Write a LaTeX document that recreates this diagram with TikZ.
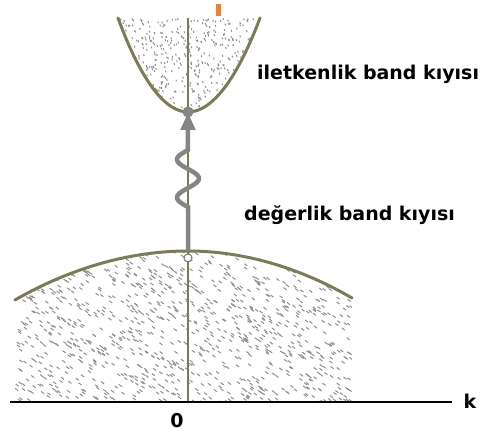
\documentclass[tikz,border=0pt]{standalone}
\usepackage{fontspec}
\setmainfont{DejaVu Sans}
\usetikzlibrary{arrows.meta}
\definecolor{bandc}{HTML}{7D7B55}
\definecolor{wavec}{HTML}{858585}
\definecolor{dotc}{HTML}{8E8E8E}
\definecolor{markc}{HTML}{F08040}
\begin{document}
\begin{tikzpicture}[x=1pt,y=-1pt,
  bandline/.style={draw=bandc,line width=3pt,line cap=round},
  speck/.style={draw=dotc,line width=1pt},
  lbl/.style={font=\fontsize{19}{21}\selectfont\bfseries,inner sep=0pt},
  wavearrow/.style={draw=wavec,line width=4.5pt,-{Triangle[length=18pt,width=14pt]}}]
\useasboundingbox (0,0) rectangle (485,435);
\pgfmathsetseed{11}
% conduction band fill
\begin{scope}
  \clip (118,18) parabola bend (188,112) (260,18) -- cycle;
  \foreach \i in {1,...,520}{
    \pgfmathsetmacro\px{118+142*rnd}
    \pgfmathsetmacro\py{18+94*rnd}
    \draw[speck] (\px,\py) -- ++(0.6,1.8);
  }
\end{scope}
% valence band fill
\begin{scope}
  \clip (15,300) parabola bend (188,250) (352,298) -- (352,402) -- (15,402) -- cycle;
  \foreach \i in {1,...,1100}{
    \pgfmathsetmacro\px{15+337*rnd}
    \pgfmathsetmacro\py{250+152*rnd}
    \draw[speck] (\px,\py) -- ++(3,2.2);
  }
\end{scope}
% coordinates
\coordinate (cbbot) at (188,112);
\coordinate (vbtop) at (188,251);
\coordinate (origin) at (188,402);
\coordinate (axl) at (10,402);
\coordinate (axr) at (452,402);
% vertical line
\draw[draw=bandc,line width=1.3pt] (188,18) -- (origin);
\draw[draw=bandc,line width=2.4pt] (188,18) -- (cbbot);
% bands
\draw[bandline] (118,18) parabola bend (cbbot) (260,18);
\draw[bandline] (15,300) parabola bend (vbtop) (352,298);
\fill[wavec] (cbbot) circle (5.5);
% axis
\draw[black,line width=1.3pt] (axl) -- (axr);
% wavy arrow
\draw[wavearrow] (vbtop) -- (188,207)
  -- plot[domain=0:1,samples=50,smooth] ({188-11*sin(540*\x)},{207-57*\x})
  -- (cbbot);
\draw[draw=wavec,fill=white,line width=1.2pt] (188,258) circle (4);
% orange mark
\fill[markc] (216,4) rectangle (221,16);
% labels
\node[lbl,anchor=west] (cbl) at (257,74) {iletkenlik band kıyısı};
\node[lbl,anchor=west] (vbl) at (244,215) {değerlik band kıyısı};
\node[lbl] (klbl) at (470,401) {k};
\node[lbl] (zero) at (177,421) {0};
\end{tikzpicture}
\end{document}
